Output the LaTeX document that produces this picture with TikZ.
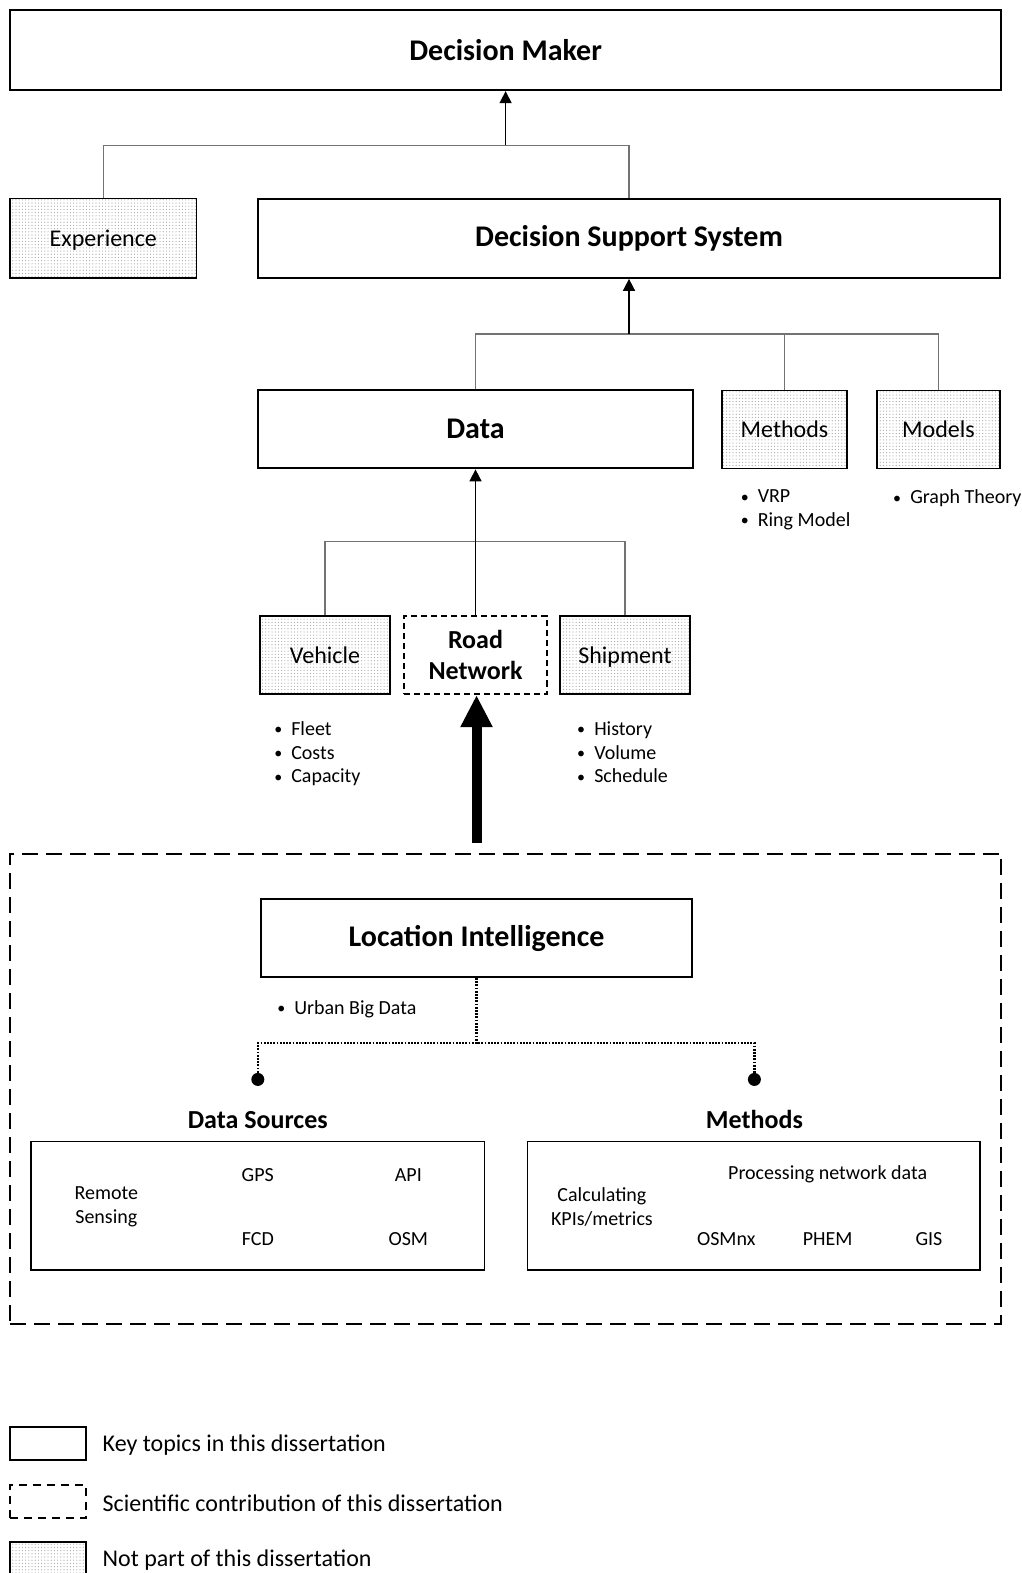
\documentclass[tikz,border=0pt]{standalone}
\usepackage{fontspec}
\setmainfont{Carlito}
\usetikzlibrary{arrows.meta,patterns.meta}
\newcommand{\bu}{{\fontsize{8}{8}\selectfont\raisebox{0.3pt}{•}}\ \ }
\begin{document}
\begin{tikzpicture}[x=0.50147pt,y=-0.50147pt,
  box/.style={draw=black, line width=1pt, inner sep=0pt, align=center},
  keybox/.style={box, font=\fontsize{15}{18}\selectfont\bfseries},
  stip/.style={box, line width=0.8pt, pattern={Dots[distance=1.6pt,radius=0.3pt]}, pattern color=black!35, font=\fontsize{12}{14}\selectfont, text depth=0pt},
  contrib/.style={box, dash pattern=on 3pt off 2pt, font=\fontsize{13}{15.5}\selectfont\bfseries},
  conn/.style={draw=black!55, line width=0.75pt},
  arr/.style={draw=black, line width=0.8pt, -{Triangle[length=6pt,width=6pt]}},
  dotline/.style={draw=black, line width=1.1pt, dash pattern=on 0.9pt off 0.7pt},
  bul/.style={anchor=north west, align=left, inner sep=0pt, font=\fontsize{10}{11.8}\selectfont},
  small/.style={inner sep=0pt, align=center, font=\fontsize{10}{12}\selectfont},
  title/.style={inner sep=0pt, font=\fontsize{13}{15}\selectfont\bfseries},
  legtext/.style={anchor=west, inner sep=0pt, font=\fontsize{12}{14}\selectfont}
]
\useasboundingbox (0,0) rectangle (1018,1568);

% top level
\node[keybox, minimum width=495.5pt, minimum height=40pt] (dm) at (504,50) {Decision Maker};
\node[stip, minimum width=93.3pt, minimum height=39.6pt] (exp) at (103,237.5) {Experience};
\node[keybox, minimum width=371pt, minimum height=39.6pt] (dss) at (627,237.5) {Decision Support System};
\coordinate (j1) at (504,145);
\draw[conn] (exp.north) |- (j1) -| (dss.north);
\draw[arr] (j1) -- (dm.south);

% second level
\node[keybox, minimum width=217pt, minimum height=39pt] (data) at (474,428) {Data};
\node[stip, minimum width=62.2pt, minimum height=39pt] (meth) at (782,428) {Methods};
\node[stip, minimum width=61.7pt, minimum height=39pt] (mod) at (935.5,428) {Models};
\coordinate (j2) at (627,333);
\draw[conn] (data.north) |- (j2) -| (mod.north);
\draw[conn] (meth.north) -- (meth.north |- j2);
\draw[arr] (j2) -- (dss.south);
\node[bul] (methb) at (738,488) {\bu VRP\\\bu Ring Model};
\node[bul] (modb) at (890,488) {\bu Graph Theory};

% third level
\node[stip, minimum width=65.2pt, minimum height=39pt] (veh) at (324,653) {Vehicle};
\node[contrib, minimum width=71.2pt, minimum height=39pt] (road) at (474,653) {Road\\Network};
\node[stip, minimum width=65.2pt, minimum height=39pt] (ship) at (623,653) {Shipment};
\coordinate (j3) at (474,540);
\draw[conn] (veh.north) |- (j3) -| (ship.north);
\draw[arr] (road.north) -- (data.south);
\node[bul] (vehb) at (273,719) {\bu Fleet\\\bu Costs\\\bu Capacity};
\node[bul] (shipb) at (575,719) {\bu History\\\bu Volume\\\bu Schedule};

% location intelligence frame
\node[draw=black, line width=1pt, dash pattern=on 8pt off 4pt, inner sep=0pt, minimum width=495.5pt, minimum height=235.2pt] (frame) at (504,1085.5) {};
\coordinate (thk) at (475,840);
\draw[line width=5pt, -{Triangle[length=16pt,width=15pt]}] (thk) -- (road.south -| thk);

\node[keybox, minimum width=215.6pt, minimum height=39pt] (li) at (475,935) {Location Intelligence};
\node[bul] (lib) at (276,997) {\bu Urban Big Data};
\coordinate (jd) at (475,1040);
\node[circle, fill=black, inner sep=0pt, minimum size=6.5pt] (d1) at (257,1076) {};
\node[circle, fill=black, inner sep=0pt, minimum size=6.5pt] (d2) at (752,1076) {};
\draw[dotline] (li.south) -- (jd);
\draw[dotline] (d1) |- (jd) -| (d2);

\node[title] (dst) at (257,1116) {Data Sources};
\node[title] (mt) at (752,1116) {Methods};
\node[draw=black, line width=0.8pt, inner sep=0pt, minimum width=226.7pt, minimum height=64.2pt] (dsb) at (257,1202) {};
\node[draw=black, line width=0.8pt, inner sep=0pt, minimum width=226.2pt, minimum height=64.2pt] (mb) at (751.5,1202) {};

\node[small] (rs) at (106,1203) {Remote\\Sensing};
\node[small] (gps) at (257,1171) {GPS};
\node[small] (api) at (407,1171) {API};
\node[small] (fcd) at (257,1235) {FCD};
\node[small] (osm) at (407,1235) {OSM};

\node[small] (kpi) at (600,1203) {Calculating\\KPIs/metrics};
\node[small] (pnd) at (825,1171) {Processing network data};
\node[small] (osmnx) at (724,1235) {OSMnx};
\node[small] (phem) at (825,1235) {PHEM};
\node[small] (gis) at (926,1235) {GIS};

% legend
\node[box, minimum width=38pt, minimum height=16.5pt] (l1) at (48,1438.5) {};
\node[box, dash pattern=on 4pt off 3pt, minimum width=38pt, minimum height=16.5pt] (l2) at (48,1496.5) {};
\node[stip, minimum width=38pt, minimum height=16.5pt] (l3) at (48,1553.5) {};
\node[legtext] (t1) at (102,1440) {Key topics in this dissertation};
\node[legtext] (t2) at (102,1498) {Scientific contribution of this dissertation};
\node[legtext] (t3) at (102,1555) {Not part of this dissertation};
\end{tikzpicture}
\end{document}
